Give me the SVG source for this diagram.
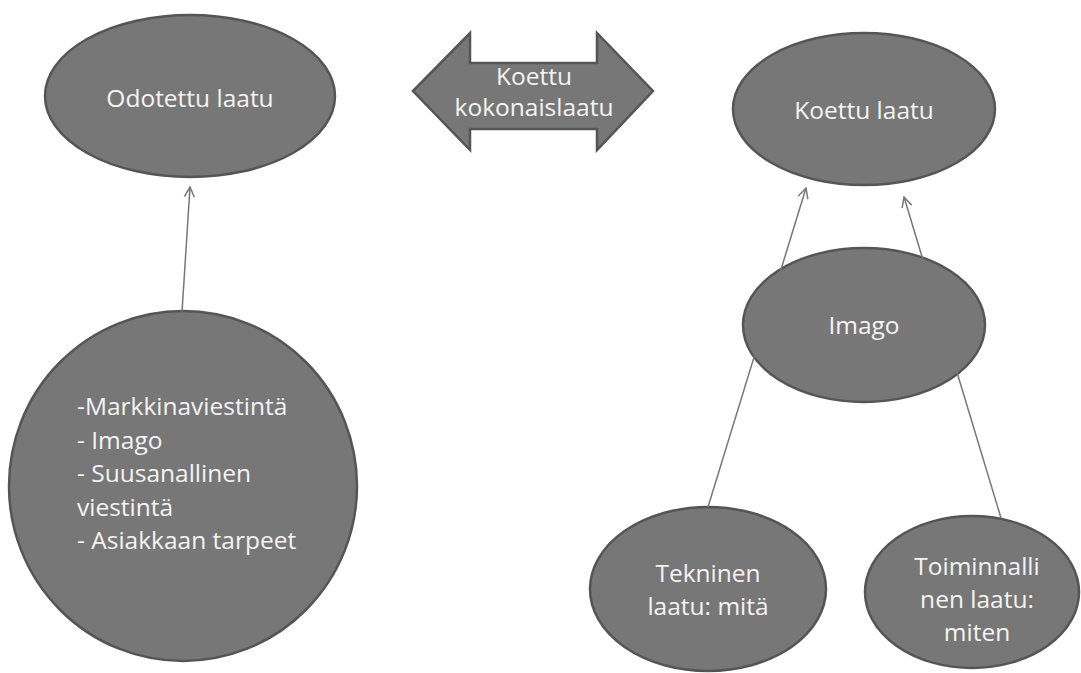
<svg xmlns="http://www.w3.org/2000/svg" width="1081" height="673" viewBox="0 0 1081 673">
  <defs>
    <style>
      .node { fill: #777777; stroke: #555555; stroke-width: 2.5; }
      .label { font-family: "Open Sans", "Liberation Sans", sans-serif; font-size: 24.5px; fill: #f4f4f4; }
      .mid { text-anchor: middle; }
      .conn { fill: none; stroke: #777777; stroke-width: 1.5; marker-end: url(#open); }
    </style>
    <marker id="open" viewBox="0 0 12 12" refX="11" refY="6" markerWidth="12" markerHeight="12" markerUnits="userSpaceOnUse" orient="auto">
      <path d="M1,1 L11,6 L1,11" fill="none" stroke="#777777" stroke-width="1.5"/>
    </marker>
  </defs>
  <rect width="1081" height="673" fill="#ffffff"/>

  <g id="odotettu">
    <ellipse class="node" cx="190" cy="96" rx="145" ry="81"/>
    <text class="label mid" x="190" y="107">Odotettu laatu</text>
  </g>

  <g id="kokonaislaatu">
    <polygon class="node" points="413,91 470,33 470,63 597,63 597,33 653,91 597,150 597,129 470,129 470,150"/>
    <text class="label mid" x="534" y="85">Koettu</text>
    <text class="label mid" x="534" y="116">kokonaislaatu</text>
  </g>

  <g id="koettu">
    <ellipse class="node" cx="864" cy="109" rx="131" ry="76"/>
    <text class="label mid" x="864" y="119">Koettu laatu</text>
  </g>

  <g id="imago">
    <ellipse class="node" cx="864" cy="325" rx="121" ry="77"/>
    <text class="label mid" x="864" y="334">Imago</text>
  </g>

  <g id="tekijat">
    <ellipse class="node" cx="183" cy="486" rx="174" ry="175"/>
    <text class="label" x="77" y="415">-Markkinaviestintä</text>
    <text class="label" x="77" y="448.5">- Imago</text>
    <text class="label" x="77" y="482">- Suusanallinen</text>
    <text class="label" x="77" y="515.5">viestintä</text>
    <text class="label" x="77" y="549">- Asiakkaan tarpeet</text>
  </g>

  <g id="tekninen">
    <ellipse class="node" cx="708" cy="589" rx="118" ry="82"/>
    <text class="label mid" x="708" y="582">Tekninen</text>
    <text class="label mid" x="708" y="615">laatu: mitä</text>
  </g>

  <g id="toiminnallinen">
    <ellipse class="node" cx="972" cy="592" rx="107" ry="76"/>
    <text class="label mid" x="977" y="575">Toiminnalli</text>
    <text class="label mid" x="977" y="608">nen laatu:</text>
    <text class="label mid" x="977" y="641">miten</text>
  </g>

  <!-- connectors, drawn last so they run over the Imago ellipse -->
  <g id="connectors">
    <line class="conn" x1="182" y1="312" x2="190" y2="187"/>
    <line class="conn" x1="708" y1="507" x2="806" y2="188"/>
    <line class="conn" x1="1001" y1="518" x2="904" y2="197"/>
  </g>
</svg>
